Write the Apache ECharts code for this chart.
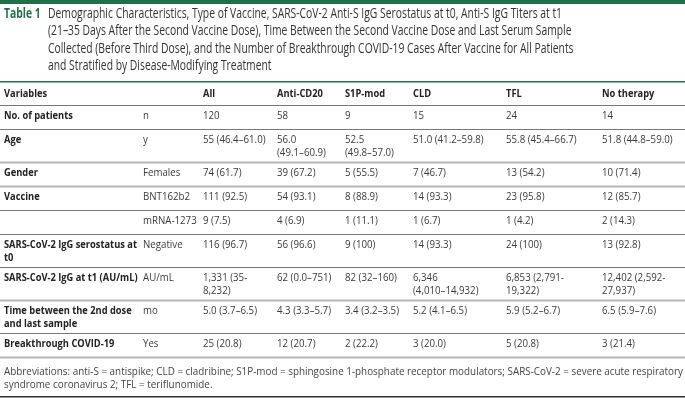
<!DOCTYPE html>
<html>
<head>
<meta charset="utf-8">
<script src="https://cdn.jsdelivr.net/npm/echarts@6/dist/echarts.min.js"></script>
<style>
  html, body { margin: 0; padding: 0; background: #fff; }
  #table1 { width: 685px; height: 408px; }
</style>
</head>
<body>
<div id="table1"></div>
<script>
// 表格数据
const titleLabel = "Table 1";
const titleLines = [
  "Demographic Characteristics, Type of Vaccine, SARS-CoV-2 Anti-S IgG Serostatus at t0, Anti-S IgG Titers at t1",
  "(21–35 Days After the Second Vaccine Dose), Time Between the Second Vaccine Dose and Last Serum Sample",
  "Collected (Before Third Dose), and the Number of Breakthrough COVID-19 Cases After Vaccine for All Patients",
  "and Stratified by Disease-Modifying Treatment"
];
const columns = ["Variables", "", "All", "Anti-CD20", "S1P-mod", "CLD", "TFL", "No therapy"];
const variables = ["No. of patients", "Age", "Gender", "Vaccine", "", "SARS-CoV-2 IgG serostatus at\nt0",
  "SARS-CoV-2 IgG at t1 (AU/mL)", "Time between the 2nd dose\nand last sample", "Breakthrough COVID-19"];
const units = ["n", "y", "Females", "BNT162b2", "mRNA-1273", "Negative", "AU/mL", "mo", "Yes"];
const allPatients = ["120", "55 (46.4–61.0)", "74 (61.7)", "111 (92.5)", "9 (7.5)", "116 (96.7)", "1,331 (35-\n8,232)", "5.0 (3.7–6.5)", "25 (20.8)"];
const antiCD20 = ["58", "56.0\n(49.1–60.9)", "39 (67.2)", "54 (93.1)", "4 (6.9)", "56 (96.6)", "62 (0.0–751)", "4.3 (3.3–5.7)", "12 (20.7)"];
const s1pMod = ["9", "52.5\n(49.8–57.0)", "5 (55.5)", "8 (88.9)", "1 (11.1)", "9 (100)", "82 (32–160)", "3.4 (3.2–3.5)", "2 (22.2)"];
const cld = ["15", "51.0 (41.2–59.8)", "7 (46.7)", "14 (93.3)", "1 (6.7)", "14 (93.3)", "6,346\n(4,010–14,932)", "5.2 (4.1–6.5)", "3 (20.0)"];
const tfl = ["24", "55.8 (45.4–66.7)", "13 (54.2)", "23 (95.8)", "1 (4.2)", "24 (100)", "6,853 (2,791-\n19,322)", "5.9 (5.2–6.7)", "5 (20.8)"];
const noTherapy = ["14", "51.8 (44.8–59.0)", "10 (71.4)", "12 (85.7)", "2 (14.3)", "13 (92.8)", "12,402 (2,592-\n27,937)", "6.5 (5.9–7.6)", "3 (21.4)"];
const footnote = [
  "Abbreviations: anti-S = antispike; CLD = cladribine; S1P-mod = sphingosine 1-phosphate receptor modulators; SARS-CoV-2 = severe acute respiratory",
  "syndrome coronavirus 2; TFL = teriflunomide."
];

const green = "#1d7048";
const textColor = "#3a3a3a";
const colX = [4, 143, 203, 277, 345, 413, 506, 602];
const tableTop = 82;
const lineH = 13;
const pad = 5;

// 用canvas量文字宽度，算出窄体的横向缩放
const ctx = document.createElement("canvas").getContext("2d");
function fitScale(str, font, width) {
  ctx.font = font;
  return width / ctx.measureText(str).width;
}
const titleFont = "normal 14px 'Open Sans'";
const titleScale = fitScale(titleLines[0], titleFont, 514);
const noteFont = "normal 10.5px 'Open Sans'";
const noteScale = fitScale(footnote[0], noteFont, 679);

let myChart = echarts.init(document.getElementById("table1"));
let elements = [];

function text(str, x, y, opt) {
  opt = opt || {};
  elements.push({
    type: "text",
    x: x,
    y: y,
    scaleX: opt.scaleX || 1,
    style: {
      text: str,
      fill: opt.fill || textColor,
      font: opt.font || ((opt.weight || "normal") + " 10px 'Open Sans'"),
      lineHeight: opt.lineHeight || lineH,
      verticalAlign: "top"
    }
  });
}
function rule(y, w, color) {
  elements.push({
    type: "rect",
    shape: { x: 0, y: y, width: 685, height: w },
    style: { fill: color }
  });
}

// 顶部绿色条和标题
rule(0, 4, green);
text(titleLabel, 4, 5, { font: "bold 14px 'Open Sans'", fill: green, scaleX: titleScale, lineHeight: 17.5 });
titleLines.forEach(function (l, i) {
  text(l, 48, 5 + i * 17.5, { font: titleFont, scaleX: titleScale, lineHeight: 17.5, fill: "#333" });
});

// 表头
rule(tableTop - 1, 1.5, green);
let y = tableTop;
columns.forEach(function (c, i) {
  text(c, colX[i], y + pad + 1, { weight: "bold", fill: "#222", scaleX: 0.93 });
});
y += 23;
rule(y, 1, "#777");

// 数据行
const dataCols = [allPatients, antiCD20, s1pMod, cld, tfl, noTherapy];
const thickAfter = [1, 2, 6, 8];
variables.forEach(function (v, r) {
  let cells = [v, units[r]].concat(dataCols.map(function (d) { return d[r]; }));
  let lines = Math.max.apply(null, cells.map(function (s) { return s.split("\n").length; }));
  cells.forEach(function (s, i) {
    if (i === 0) {
      text(s, colX[i], y + pad, { weight: "bold", fill: "#222", scaleX: 0.93 });
    } else {
      text(s, colX[i], y + pad, { scaleX: 0.97 });
    }
  });
  y += lines === 1 ? 24 : 33;
  if (thickAfter.indexOf(r) >= 0) {
    rule(y - 0.5, 2, "#b4b4b4");
  } else {
    rule(y, 1, "#777");
  }
});

// 脚注
footnote.forEach(function (l, i) {
  text(l, 4, y + 9 + i * 13, { font: noteFont, scaleX: noteScale, fill: "#444" });
});
rule(y + 39, 1.5, "#333");

myChart.setOption({
  animation: false,
  graphic: { elements: elements }
});
</script>
</body>
</html>
